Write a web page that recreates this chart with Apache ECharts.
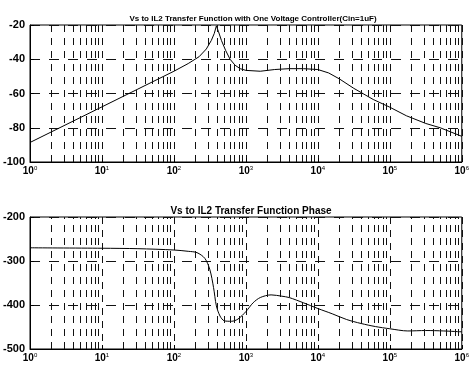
<!DOCTYPE html>
<html>
<head>
<meta charset="utf-8">
<script src="https://cdn.jsdelivr.net/npm/echarts@6/dist/echarts.min.js"></script>
<style>html,body{margin:0;padding:0;background:#fff;}#c{width:472px;height:373px;}</style>
</head>
<body>
<div id="c"></div>
<script>
var magTitle = 'Vs to IL2 Transfer Function with One Voltage Controller(Cin=1uF)';
var phaseTitle = 'Vs to IL2 Transfer Function Phase';

var magFreq = [1, 3.16, 10, 31.6, 100, 158, 224, 282, 331, 363, 389, 417, 457, 525, 603, 708, 832, 1000, 1585, 2512, 3981, 6310, 10000, 14125, 19953, 31623, 58884, 100000, 169824, 316228, 501187, 1000000];
var magDb   = [-88.6, -78.2, -67.8, -57.4, -47.0, -42.5, -38.5, -34, -29, -25, -20.5, -24, -29, -35, -40, -43.5, -45.5, -46.5, -47, -46, -45.5, -45.5, -46, -48, -51.5, -57, -63.5, -68, -73, -77.5, -80, -85];

var phFreq = [1, 10, 31.6, 100, 158, 209, 269, 316, 355, 389, 437, 501, 631, 776, 1000, 1259, 1585, 2239, 3162, 3981, 6310, 10000, 15849, 25119, 39811, 63096, 100000, 177828, 316228, 562341, 1000000];
var phDeg  = [-270, -271, -272, -275, -278, -281, -294, -320, -360, -402, -425, -436, -437, -432, -415, -395, -383, -377, -380, -383, -395, -408, -420, -433, -442, -449, -454, -459, -458, -459, -461];

var magTicks = [-100, -80, -60, -40, -20];
var phTicks = [-500, -400, -300, -200];

var minorF = [];
for (var d = 0; d < 6; d++) { for (var k = 2; k <= 9; k++) { minorF.push(k * Math.pow(10, d)); } }

function pairs(xs, ys) { return xs.map(function (x, i) { return [x, ys[i]]; }); }

var font = 'Liberation Sans, Arial, sans-serif';
var gridLine = { color: '#111', width: 1, type: [7, 6] };

function xAx(gi) {
  return {
    type: 'log', logBase: 10, gridIndex: gi, min: 1, max: 1000000, interval: 1,
    axisLine: { show: true, onZero: false, lineStyle: { color: '#000', width: 1 } },
    axisTick: { show: true, inside: true, length: 4, lineStyle: { color: '#000' } },
    splitLine: { show: true, lineStyle: gridLine },
    axisLabel: {
      color: '#000', fontFamily: font, margin: 3,
      formatter: function (v) { return '{b|10}{s|' + Math.round(Math.log10(v)) + '}'; },
      rich: {
        b: { fontSize: 10, fontWeight: 'bold', fontFamily: font, color: '#000' },
        s: { fontSize: 6, fontFamily: font, color: '#000', verticalAlign: 'top', padding: [0, 0, 6, 0] }
      }
    }
  };
}
function yAx(gi, mn, mx, iv) {
  return {
    type: 'value', gridIndex: gi, min: mn, max: mx, interval: iv,
    axisLine: { show: true, lineStyle: { color: '#000', width: 1 } },
    axisTick: { show: true, inside: true, length: 4, lineStyle: { color: '#000' } },
    splitLine: { show: true, lineStyle: { color: '#111', width: 1, type: [10, 9] } },
    axisLabel: { color: '#000', fontSize: 11, fontWeight: 'bold', fontFamily: font, margin: 5 }
  };
}
function minorLines() {
  return {
    silent: true, animation: false, symbol: ['none', 'none'], label: { show: false },
    lineStyle: { color: '#111', width: 1, type: [7, 6] },
    data: minorF.map(function (f) { return { xAxis: f }; })
  };
}

var chart = echarts.init(document.getElementById('c'));
chart.setOption({
  animation: false,
  backgroundColor: '#fff',
  title: [
    { text: magTitle, left: 248, top: 10, textAlign: 'center', textStyle: { fontSize: 8, fontWeight: 'bold', fontFamily: font, color: '#000' } },
    { text: phaseTitle, left: 246, top: 201, textAlign: 'center', textStyle: { fontSize: 10, fontWeight: 'bold', fontFamily: font, color: '#000' } }
  ],
  grid: [
    { left: 30, right: 6, top: 25, height: 137, show: true, borderColor: '#000', borderWidth: 1, backgroundColor: 'transparent' },
    { left: 30, right: 6, top: 217, height: 132, show: true, borderColor: '#000', borderWidth: 1, backgroundColor: 'transparent' }
  ],
  xAxis: [xAx(0), xAx(1)],
  yAxis: [yAx(0, magTicks[0], magTicks[magTicks.length - 1], 20), yAx(1, phTicks[0], phTicks[phTicks.length - 1], 100)],
  series: [
    { type: 'line', xAxisIndex: 0, yAxisIndex: 0, data: pairs(magFreq, magDb), showSymbol: false, symbol: 'none',
      lineStyle: { color: '#000', width: 1 }, markLine: minorLines() },
    { type: 'line', xAxisIndex: 1, yAxisIndex: 1, data: pairs(phFreq, phDeg), showSymbol: false, symbol: 'none', smooth: 0.3,
      lineStyle: { color: '#000', width: 1 }, markLine: minorLines() }
  ]
});
</script>
</body>
</html>
